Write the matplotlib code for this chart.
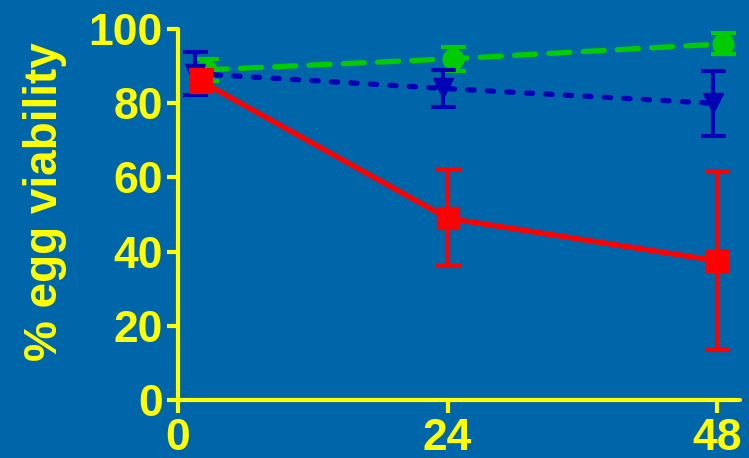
import matplotlib
matplotlib.use("Agg")
import matplotlib.pyplot as plt

# egg viability over time, three treatments (mean and error)
green_x = [2.5, 24.5, 48.5]
green_y = [89, 92, 96]
green_err = [3, 3.2, 2.8]

blue_x = [1.5, 23.6, 47.6]
blue_y = [88, 84, 80]
blue_err = [5.8, 5, 8.7]

red_x = [2, 24, 48]
red_y = [86, 49, 37.5]
red_err = [3, 13, 24]

xticks = [0, 24, 48]
yticks = [0, 20, 40, 60, 80, 100]

BG = "#0066AA"
YEL = "#FFFF00"

plt.rcParams['font.family'] = ['Liberation Sans', 'DejaVu Sans']
plt.rcParams['font.weight'] = 'bold'

fig = plt.figure(figsize=(7.49, 4.58), dpi=100, facecolor=BG)
ax = fig.add_axes([0.2377, 0.1266, 0.75, 0.81])
ax.set_facecolor(BG)

# green - dashed, circles
ax.errorbar(green_x, green_y, yerr=green_err, color="#00CC00", lw=3.8,
            ls=(0, (4, 2.5)), dash_capstyle='round', marker='o', ms=15,
            capsize=9, capthick=3, elinewidth=3, zorder=2)
# blue - dotted, down triangles
ax.errorbar(blue_x, blue_y, yerr=blue_err, color="#0000B4", lw=3.8,
            ls=(0, (1.2, 2.5)), dash_capstyle='round', marker='v', ms=14,
            capsize=9, capthick=3, elinewidth=3, zorder=3)
# red - solid, squares
ax.errorbar(red_x, red_y, yerr=red_err, color="#FF0000", lw=3.8,
            ls='-', marker='s', ms=16, capsize=9, capthick=3,
            elinewidth=3, zorder=4)

ax.set_xlim(0, 50)
ax.set_ylim(0, 100)
ax.set_xticks(xticks)
ax.set_yticks(yticks)

for s in ['top', 'right']:
    ax.spines[s].set_visible(False)
for s in ['left', 'bottom']:
    ax.spines[s].set_color(YEL)
    ax.spines[s].set_linewidth(3)
    ax.spines[s].set_capstyle('round')

ax.tick_params(colors=YEL, width=3, length=8, pad=3, labelsize=32)
ax.tick_params(axis='x', length=9, pad=4)
for lab in ax.get_xticklabels() + ax.get_yticklabels():
    lab.set_fontweight('bold')

ax.set_ylabel("% egg viability", color=YEL, fontsize=33, fontweight='bold')
ax.yaxis.set_label_coords(-0.198, 0.534)

fig.savefig("out.png", dpi=100, facecolor=BG)
